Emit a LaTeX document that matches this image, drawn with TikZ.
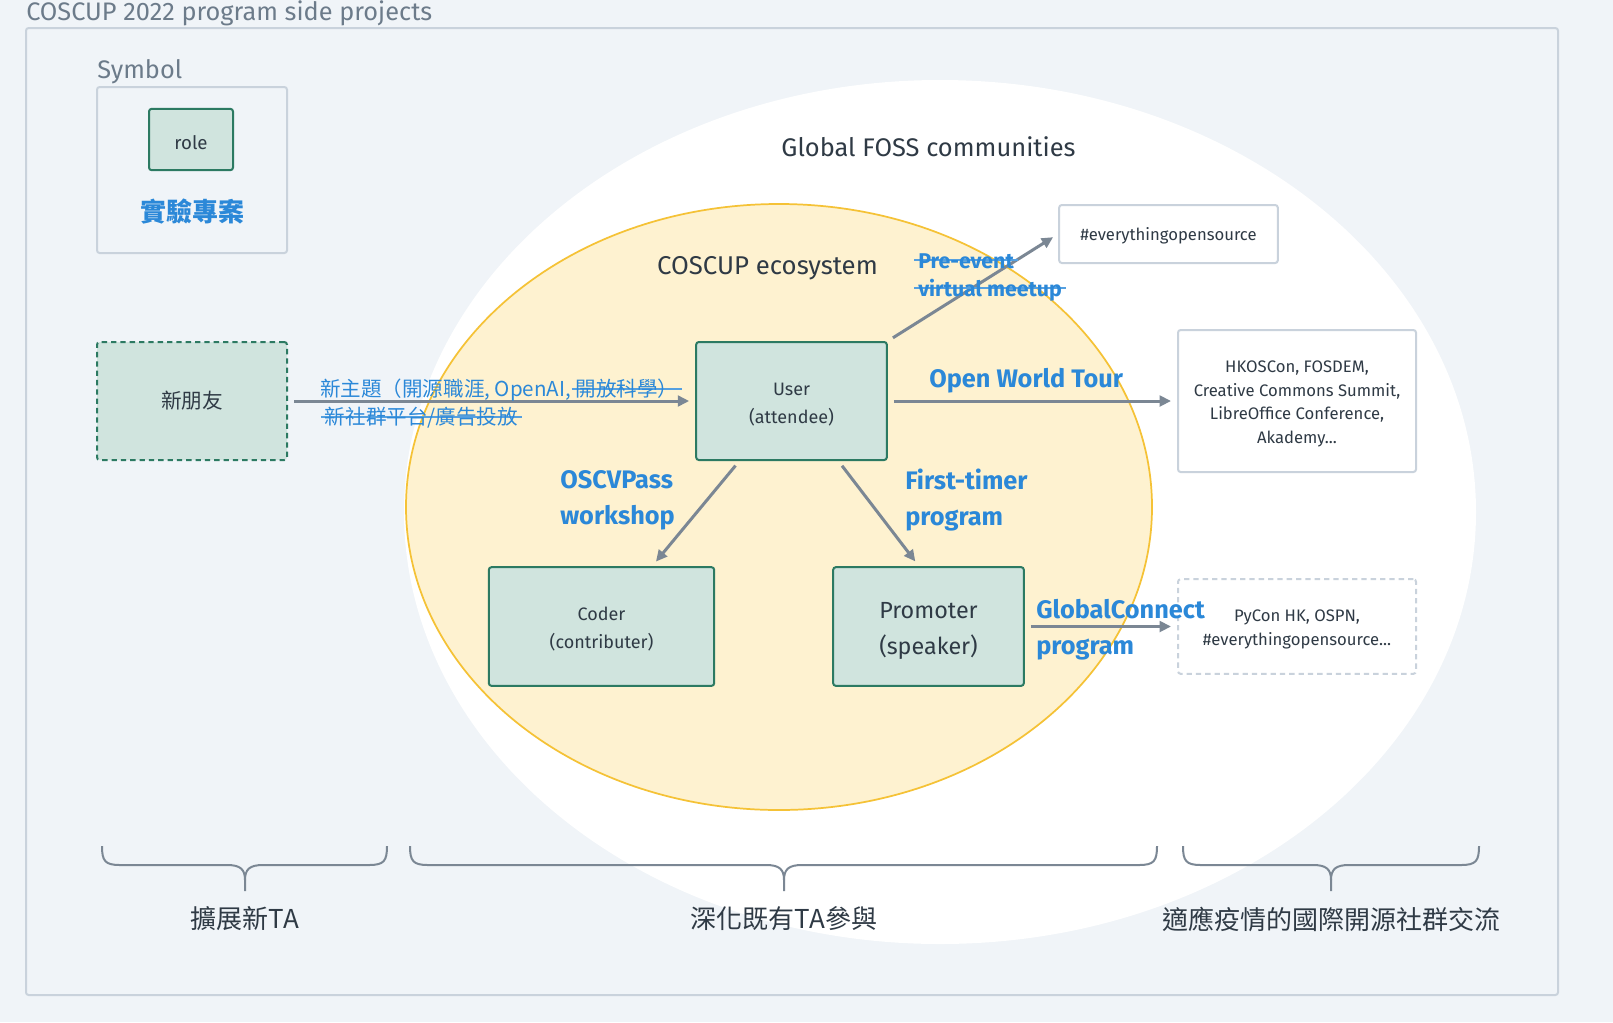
\documentclass[tikz,border=0pt]{standalone}
\usepackage{fontspec}
\setmainfont{Fira Sans}
\newfontfamily\cjk{Noto Sans CJK TC}
\usetikzlibrary{arrows.meta}

\definecolor{pagebg}{HTML}{F0F4F8}
\definecolor{framegray}{HTML}{C9D2DC}
\definecolor{labelgray}{HTML}{6C7B8A}
\definecolor{rolefill}{HTML}{D0E4DE}
\definecolor{roleline}{HTML}{2C7A62}
\definecolor{inkdark}{HTML}{2F3A45}
\definecolor{projblue}{HTML}{2B88D8}
\definecolor{arrowgray}{HTML}{7B8794}
\definecolor{ecofill}{HTML}{FEF2D0}
\definecolor{ecoline}{HTML}{F5C236}

% struck-out project text
\newlength\strikewd
\newcommand\strike[1]{\settowidth\strikewd{#1}\makebox[0pt][l]{\hspace*{-3pt}\textcolor{projblue!80}{\rule[0.33em]{\dimexpr\strikewd+6pt\relax}{1.3pt}}}#1}
% taller first line, so box texts sit a little lower
\newcommand\boxstrut{\rule{0pt}{1.05em}}

\begin{document}
\begin{tikzpicture}[
        x=0.75pt, y=-0.75pt,
        role/.style = {draw=roleline, fill=rolefill, line width=1.5pt, rounded corners=2pt, text=inkdark, align=center, inner sep=0pt},
        venue/.style = {draw=framegray, fill=white, line width=1.5pt, rounded corners=2pt, text=inkdark, align=center, inner sep=0pt, font=\fontsize{12.5}{17.8}\selectfont},
        project/.style = {text=projblue, font=\bfseries\fontsize{19}{27}\selectfont, align=left, anchor=west, inner sep=0pt},
        flow/.style = {->, arrowgray, line width=2.25pt, shorten <=4.5pt, shorten >=4.5pt},
        brace/.style = {draw=arrowgray, line width=1.5pt},
        tag/.style = {text=inkdark, font=\cjk\fontsize{19.5}{24}\selectfont},
        >={Triangle[length=8.5pt, width=8pt]}
        ]

        \fill[pagebg] (0,0) rectangle (1613,1022);
        \useasboundingbox (0,0) rectangle (1613,1022);
        \draw[framegray, line width=1.5pt, rounded corners=2pt] (26,28) rectangle (1558,995);
        \node (title) at (26,20) [anchor=base west, inner sep=0pt, text=labelgray, font=\fontsize{19}{22}\selectfont] {COSCUP 2022 program side projects};

        % legend
        \node (symtitle) at (97,78) [anchor=base west, inner sep=0pt, text=labelgray, font=\fontsize{19}{22}\selectfont] {Symbol};
        \draw[framegray, line width=1.5pt, rounded corners=2pt] (97,87) rectangle (287,253);
        \node (rolekey) at (191,139.5) [role, minimum width=63pt, minimum height=46pt, font=\fontsize{14}{17}\selectfont] {\boxstrut role};
        \node (projkey) at (192,212) [text=projblue, font=\cjk\bfseries\fontsize{19.5}{24}\selectfont] {實驗專案};

        % communities
        \fill[white] (940,512) ellipse (536 and 432);
        \draw[ecoline, fill=ecofill, line width=1.3pt] (779,507) ellipse (373 and 303);
        \node (foss) at (928.5,147) [text=inkdark, font=\fontsize{19.1}{22}\selectfont] {Global FOSS communities};
        \node (eco) at (767.5,268) [text=inkdark, font=\fontsize{19.3}{22}\selectfont] {COSCUP ecosystem};

        % roles
        \node (newfriend) at (192,401) [role, dash pattern=on 4pt off 3pt, minimum width=142.5pt, minimum height=88.5pt, font=\cjk\fontsize{15.5}{19}\selectfont] {新朋友};
        \node (user) at (791.5,401) [role, minimum width=143pt, minimum height=88.5pt, font=\fontsize{13.5}{21}\selectfont] {\boxstrut User\\(attendee)};
        \node (coder) at (601.5,626.5) [role, minimum width=169pt, minimum height=89pt, font=\fontsize{13.5}{21}\selectfont] {\boxstrut Coder\\(contributer)};
        \node (promoter) at (928.5,626.5) [role, minimum width=143pt, minimum height=89pt, font=\fontsize{17.5}{27}\selectfont] {\boxstrut Promoter\\(speaker)};

        % outside events
        \node (eos) at (1168.5,234) [venue, minimum width=164pt, minimum height=43.5pt] {\boxstrut\#everythingopensource};
        \node (conf) at (1297,401) [venue, minimum width=178.5pt, minimum height=106.5pt] {\boxstrut HKOSCon, FOSDEM,\\Creative Commons Summit,\\LibreOffice Conference,\\Akademy...};
        \node (pycon) at (1297,626.5) [venue, dash pattern=on 4pt off 3pt, minimum width=178.5pt, minimum height=71pt] {\boxstrut PyCon HK, OSPN,\\\#everythingopensource...};

        \draw[flow] (newfriend) -- (user);
        \draw[flow] (user.north east) -- (eos.west);
        \draw[flow] (user) -- (conf);
        \draw[flow] (user.229.4) -- (coder.50.2);
        \draw[flow] (user.308.5) -- (promoter.99.1);
        \draw[flow] (promoter) -- (pycon);

        % side projects
        \node (topics) at (320,404) [anchor=west, inner sep=0pt, text=projblue, align=left, font=\cjk\fontsize{15.4}{21}\selectfont] {新主題（開源職涯, OpenAI, \strike{開放科學）}\\\hspace*{3.5pt}\strike{新社群平台/廣告投放}};
        \node (preevent) at (918,277) [project, font=\bfseries\fontsize{16}{21}\selectfont] {\strike{Pre-event}\\\strike{virtual meetup}};
        \node (worldtour) at (929,381) [project] {Open World Tour};
        \node (oscvpass) at (560,500) [project] {OSCVPass\\workshop};
        \node (firsttimer) at (905,500) [project] {First-timer\\program};
        \node (globalconnect) at (1036,630) [project] {GlobalConnect\\program};

        % goals
        \draw[brace] (102,846) .. controls (102,861) and (105,865) .. (120,865) -- (227,865) .. controls (240,865) and (245,869) .. (245,880) -- (245,891);
        \draw[brace] (387,846) .. controls (387,861) and (384,865) .. (369,865) -- (263,865) .. controls (250,865) and (245,869) .. (245,880);
        \draw[brace] (410,846) .. controls (410,861) and (413,865) .. (428,865) -- (766,865) .. controls (779,865) and (784,869) .. (784,880) -- (784,891);
        \draw[brace] (1157,846) .. controls (1157,861) and (1154,865) .. (1139,865) -- (802,865) .. controls (789,865) and (784,869) .. (784,880);
        \draw[brace] (1183,846) .. controls (1183,861) and (1186,865) .. (1201,865) -- (1313,865) .. controls (1326,865) and (1331,869) .. (1331,880) -- (1331,891);
        \draw[brace] (1479,846) .. controls (1479,861) and (1476,865) .. (1461,865) -- (1349,865) .. controls (1336,865) and (1331,869) .. (1331,880);
        \node (reach) at (245,919) [tag] {擴展新TA};
        \node (deepen) at (784,919) [tag] {深化既有TA參與};
        \node (global) at (1331,919) [tag] {適應疫情的國際開源社群交流};

    \end{tikzpicture}
\end{document}
